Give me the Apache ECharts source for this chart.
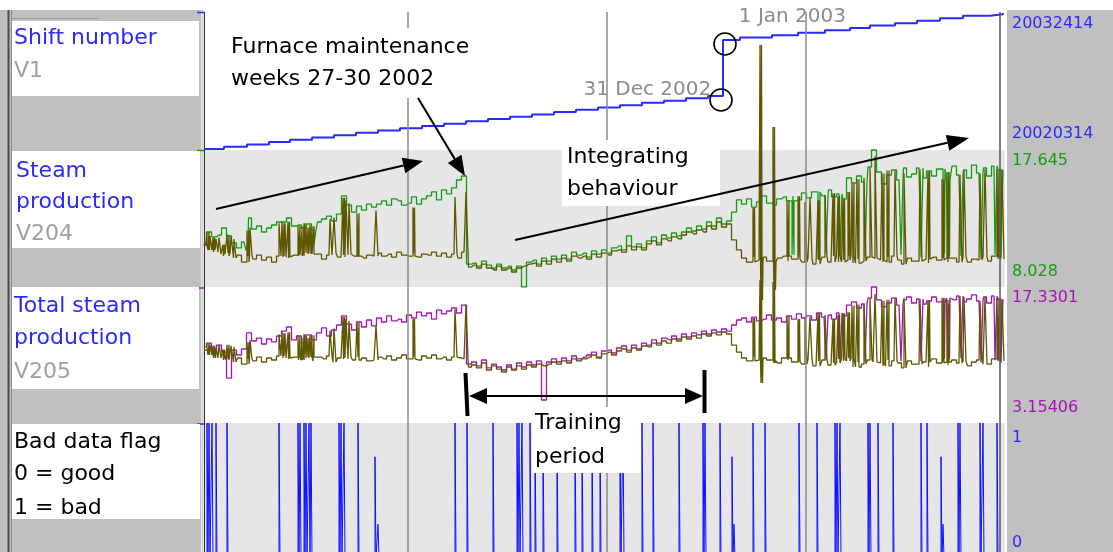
<!DOCTYPE html>
<html>
<head>
<meta charset="utf-8">
<script src="https://cdn.jsdelivr.net/npm/echarts@6/dist/echarts.min.js"></script>
<style>
  html, body { margin: 0; padding: 0; background: #ffffff; }
  #chart { width: 1113px; height: 552px; }
</style>
</head>
<body>
<div id="chart"></div>
<script>
// ---- record axis -------------------------------------------------------
const RECORD_MAX = 801;          // last record on the horizontal axis
const SAMPLE_STEP = 5;           // records between stored process samples
const PULSE_WIDTH = 2;           // records covered by a single-sample excursion
const timeGridX = [204, 403, 602];
const cursorX = [796];

// ---- V1: shift number (staircase) -------------------------------------
const shiftX = [0, 20, 43, 65, 86, 108, 130, 152, 174, 196, 218, 240, 262, 284, 306, 328, 350, 372, 394, 416,
  438, 460, 482, 504, 519, 536, 568, 594, 621, 646, 666, 691, 713, 736, 759, 786, 799];
const shiftVal = [20020314, 20020520, 20020720, 20020935, 20021130, 20021345, 20021545, 20021750, 20021960, 20022150,
  20022370, 20022565, 20022780, 20022975, 20023190, 20023380, 20023600, 20023795, 20024010, 20024200,
  20024420, 20024615, 20024830, 20025030, 20030011, 20030230, 20030440, 20030655, 20030870, 20031080,
  20031300, 20031505, 20031730, 20031945, 20032170, 20032300, 20032414];
const shiftRange = [20020314, 20032414];
const shiftTicks = ['20020314', '20032414'];
const yearEndLabels = ['31 Dec 2002', '1 Jan 2003'];

// ---- V204: steam production (one value every SAMPLE_STEP records) -------
const steamV204 = [11.33, 11.89, 11.54, 11.68, 12.17, 11.61, 11.12, 10.77, 11.19, 12.87,
  12.10, 12.31, 11.89, 12.17, 12.38, 12.59, 12.59, 12.87, 12.31, 12.38,
  12.17, 12.45, 12.03, 12.59, 12.80, 13.01, 12.66, 13.15, 14.42, 13.78,
  13.29, 13.71, 13.43, 13.85, 13.64, 13.85, 14.07, 13.78, 14.21, 14.07,
  13.78, 13.92, 14.35, 13.85, 14.21, 14.42, 14.70, 14.14, 14.84, 14.56,
  14.98, 15.54, 15.82, 9.64, 9.71, 9.50, 9.85, 9.57, 9.36, 9.64,
  9.36, 9.50, 9.22, 9.50, 8.03, 9.78, 9.92, 9.64, 10.06, 9.85,
  10.20, 9.99, 10.27, 9.99, 10.48, 10.27, 10.41, 10.13, 10.56, 10.34,
  10.63, 10.41, 10.77, 10.91, 10.63, 11.61, 10.84, 11.05, 10.77, 11.26,
  11.54, 11.12, 11.68, 11.47, 11.82, 11.61, 11.89, 12.17, 11.96, 12.31,
  12.10, 12.59, 12.31, 12.87, 12.45, 12.66, 13.29, 14.14, 13.85, 14.21,
  13.64, 14.00, 14.42, 13.92, 13.78, 14.21, 14.35, 14.07, 14.42, 14.14,
  14.63, 14.28, 14.70, 14.14, 14.42, 14.84, 14.35, 14.56, 14.21, 15.68,
  15.33, 15.82, 15.40, 16.45, 17.645, 16.10, 15.26, 15.89, 16.24, 15.54,
  16.38, 15.75, 15.96, 16.38, 15.68, 16.17, 15.82, 16.31, 15.54, 16.10,
  16.52, 15.89, 16.24, 15.68, 16.59, 16.03, 16.38, 15.82, 16.52, 16.24];
// single-sample drops of V204 as [record, value]
const steamV204Dips = [[42, 10.6], [110, 11.0], [588, 10.3], [614, 10.0], [622, 10.4], [636, 10.2], [661, 10.1],
  [697, 10.3], [717, 10.1], [739, 10.4], [744, 10.2], [757, 10.2], [777, 10.0], [791, 10.3], [797, 10.1]];
const steamV204b = [10.91, 10.62, 10.48, 10.34, 10.20, 10.41, 10.06, 10.27, 9.78, 10.20,
  9.99, 10.27, 9.92, 10.13, 9.78, 10.20, 10.13, 10.06, 10.27, 10.20,
  10.41, 10.34, 10.20, 10.34, 9.99, 10.27, 10.41, 10.13, 10.27, 10.34,
  10.20, 10.13, 10.06, 10.27, 10.20, 10.41, 10.20, 10.34, 10.13, 10.48,
  10.27, 10.20, 10.41, 10.13, 10.34, 10.27, 10.48, 10.20, 10.41, 10.13,
  10.34, 10.06, 10.48, 9.43, 9.57, 9.36, 9.64, 9.36, 9.22, 9.50,
  9.22, 9.36, 9.08, 9.36, 9.50, 9.64, 9.71, 9.50, 9.85, 9.64,
  9.99, 9.78, 10.06, 9.85, 10.20, 10.06, 10.20, 9.99, 10.34, 10.13,
  10.41, 10.27, 10.56, 10.63, 10.48, 10.91, 10.63, 10.84, 10.63, 11.05,
  11.26, 10.98, 11.40, 11.26, 11.54, 11.40, 11.68, 11.89, 11.75, 12.03,
  11.89, 12.31, 12.10, 12.59, 12.24, 12.45, 11.33, 10.63, 10.06, 9.78,
  10.13, 9.92, 10.13, 9.85, 9.78, 10.06, 10.20, 9.85, 9.99, 10.13,
  9.78, 10.06, 9.64, 9.92, 10.13, 9.78, 10.20, 9.78, 9.92, 10.20,
  9.71, 9.99, 9.85, 10.13, 10.06, 9.92, 9.78, 10.13, 10.20, 9.92,
  9.64, 10.06, 9.85, 9.85, 9.99, 9.71, 10.13, 9.92, 10.06, 9.78,
  10.06, 9.78, 10.13, 9.78, 9.99, 9.92, 10.13, 9.85, 10.20, 9.99];
// single-sample peaks of the second V204 trace as [record, value]
const steamV204bPeaks = [[1, 11.2], [3, 11.9], [6, 11.6], [9, 11.5], [12, 11.4], [15, 11.5], [19, 11.0], [23, 11.7],
  [27, 11.6], [30, 11.4], [43, 12.0], [46, 12.2], [75, 12.5], [78, 12.6], [80, 12.5], [84, 12.6],
  [94, 12.4], [96, 12.3], [98, 12.0], [100, 12.5], [103, 12.2], [106, 12.4], [108, 12.3], [126, 12.8], [130, 12.9],
  [139, 14.3], [142, 14.1], [145, 13.9], [153, 13.2], [172, 13.4], [209, 13.6], [251, 14.35], [262, 14.7],
  [549, 13.6], [556, 25.02], [557, 7.12], [569, 19.26], [570, 7.82], [583, 14.1], [594, 14.4], [601, 14.0], [606, 14.3],
  [614, 14.1], [621, 14.5], [629, 14.6], [634, 14.4], [639, 14.2], [644, 14.7], [648, 15.3], [653, 15.6], [660, 15.7],
  [666, 16.4], [671, 17.2], [678, 16.0], [683, 16.2], [691, 16.2], [700, 16.0],
  [716, 16.3], [724, 16.1], [738, 15.6], [743, 16.1], [756, 15.9], [760, 16.2], [776, 16.0], [781, 16.3], [793, 16.2], [798, 16.3]];
const steamRange = [8.028, 17.645];
const steamTicks = ['8.028', '17.645'];

// ---- V205: total steam production ---------------------------------------
const totalV205 = [11.08, 11.49, 10.76, 11.28, 10.55, 7.84, 10.76, 10.24, 10.87, 12.54,
  11.70, 12.01, 11.39, 11.91, 11.60, 12.22, 12.74, 13.16, 11.81, 12.22,
  11.49, 12.33, 11.81, 12.54, 13.06, 12.22, 12.85, 13.37, 14.31, 13.47,
  12.85, 13.68, 13.16, 13.89, 13.27, 14.10, 13.68, 14.31, 13.79, 13.99,
  13.68, 14.41, 14.10, 14.72, 14.31, 14.62, 13.99, 14.93, 14.52, 14.83,
  15.14, 14.62, 15.45, 9.30, 9.51, 9.10, 9.72, 8.89, 9.30, 8.99,
  8.68, 9.20, 8.78, 9.41, 8.99, 9.51, 9.20, 9.62, 5.55, 9.51,
  9.83, 9.51, 9.93, 9.62, 10.14, 9.83, 10.03, 10.24, 10.55, 10.03,
  10.66, 10.76, 10.45, 10.97, 11.18, 10.76, 11.28, 10.87, 11.49, 11.28,
  11.81, 11.49, 12.01, 11.81, 12.22, 11.91, 12.43, 12.12, 12.54, 12.33,
  12.74, 12.43, 12.85, 12.64, 12.95, 12.74, 13.37, 13.89, 14.10, 13.68,
  14.20, 13.79, 13.99, 14.41, 13.89, 14.10, 13.68, 14.31, 13.99, 14.52,
  14.10, 14.31, 13.89, 14.62, 14.20, 14.41, 13.99, 14.62, 14.31, 15.45,
  15.77, 15.14, 15.56, 16.18, 17.33, 15.98, 15.25, 15.66, 16.18, 15.45,
  15.98, 16.29, 15.66, 16.08, 15.56, 15.87, 16.29, 15.77, 16.18, 15.56,
  15.98, 16.39, 15.77, 16.08, 16.50, 15.87, 16.29, 15.66, 16.39, 16.08];
const totalV205Dips = [[622, 9.7], [636, 9.8], [661, 9.5], [697, 9.6], [717, 9.6], [739, 9.9], [744, 9.8],
  [757, 9.9], [777, 9.5], [791, 9.7], [797, 9.4]];
const totalV205b = [10.76, 10.24, 9.93, 9.93, 9.72, 9.83, 9.51, 9.93, 9.30, 9.83,
  9.62, 10.03, 9.51, 9.93, 9.72, 10.14, 9.93, 9.83, 10.03, 9.72,
  9.93, 10.03, 9.62, 10.03, 9.83, 10.14, 9.51, 9.93, 9.83, 10.03,
  9.72, 10.03, 9.93, 9.62, 9.72, 10.03, 9.83, 10.14, 9.72, 9.93,
  10.24, 9.83, 10.03, 9.72, 10.14, 9.93, 10.24, 9.83, 10.03, 9.72,
  10.03, 9.93, 9.83, 8.99, 9.20, 8.89, 9.41, 8.68, 9.10, 8.78,
  8.47, 8.99, 8.68, 9.10, 8.78, 9.20, 8.99, 9.30, 9.10, 9.30,
  9.51, 9.30, 9.62, 9.41, 9.83, 9.62, 9.83, 10.03, 10.24, 9.93,
  10.35, 10.55, 10.24, 10.66, 10.87, 10.55, 10.97, 10.76, 11.18, 11.08,
  11.49, 11.28, 11.70, 11.49, 11.91, 11.70, 12.12, 11.91, 12.22, 12.01,
  12.43, 12.22, 12.54, 12.33, 12.64, 12.43, 11.28, 10.55, 9.93, 9.62,
  10.03, 9.72, 9.93, 9.72, 9.62, 9.41, 9.93, 9.72, 9.51, 9.51,
  9.30, 9.83, 9.10, 9.62, 9.72, 9.20, 9.41, 9.83, 9.62, 9.93,
  8.99, 9.51, 9.30, 9.72, 9.51, 9.41, 9.10, 9.72, 9.62, 9.41,
  8.89, 9.62, 9.30, 9.30, 9.51, 8.99, 9.83, 9.41, 9.51, 9.20,
  9.72, 9.41, 9.62, 9.10, 9.51, 9.72, 9.30, 9.30, 9.83, 9.62];
const totalV205bPeaks = [[1, 10.9], [3, 11.5], [6, 11.3], [9, 11.2], [12, 11.0], [15, 11.3], [19, 10.8], [23, 11.3],
  [27, 11.2], [30, 11.1], [43, 11.6], [46, 11.8], [75, 12.4], [78, 12.7], [80, 12.5], [84, 12.6],
  [94, 12.3], [96, 12.2], [98, 12.0], [100, 12.4], [103, 12.0], [106, 12.3], [108, 12.3], [126, 12.8], [130, 13.0],
  [139, 14.2], [142, 14.0], [145, 13.8], [153, 13.6], [172, 13.4], [209, 14.0], [251, 15.0], [262, 15.5],
  [549, 14.1], [556, 18.06], [557, 7.32], [569, 17.85], [570, 9.41], [583, 14.3], [594, 14.0], [601, 14.2], [606, 14.2],
  [614, 14.6], [621, 14.4], [629, 14.0], [634, 14.4], [639, 14.6], [644, 14.7], [648, 15.4], [653, 15.5], [660, 15.6],
  [666, 16.2], [671, 16.6], [678, 15.9], [683, 16.0], [691, 16.2], [700, 16.2],
  [716, 16.1], [724, 15.9], [738, 16.2], [743, 16.0], [756, 16.4], [760, 16.3], [776, 15.9], [781, 16.3], [793, 16.1], [798, 16.0]];
const totalRange = [3.15406, 17.3301];
const totalTicks = ['3.15406', '17.3301'];

// ---- bad data flag -----------------------------------------------------
const flagX = [3, 5, 8, 12, 23, 75, 94, 96, 100, 102, 105, 107, 135, 137, 140, 154, 171, 174, 251, 263,
  289, 313, 315, 318, 326, 331, 339, 353, 371, 378, 388, 396, 416, 419, 438, 449, 475, 499, 501, 516,
  528, 530, 549, 561, 595, 613, 631, 633, 636, 664, 666, 674, 689, 717, 723, 737, 739, 754, 756, 776,
  779, 793];
const flagVal = [1, 1, 1, 1, 1, 1, 1, 1, 1, 1, 1, 1, 1, 1, 1, 1, 0.75, 0.25, 1, 1,
  1, 1, 1, 1, 1, 1, 1, 1, 1, 1, 1, 1, 1, 1, 1, 1, 1, 1, 1, 1,
  0.75, 0.25, 1, 1, 1, 1, 1, 1, 1, 1, 1, 1, 1, 1, 1, 0.75, 0.25, 1, 1, 1,
  1, 1];
const flagRange = [0, 1];
const flagTicks = ['0', '1'];

// ---- colours & fonts ---------------------------------------------------
const FONT = 'DejaVu Sans';
const C_BLUE = '#2a2aff';
const C_GREEN = '#149c14';
const C_OLIVE = '#5e5700';
const C_MAGENTA = '#a414b4';
const C_GRAY_TXT = '#8c8c8c';
const C_SIDE = '#c0c0c0';
const C_PANEL = '#e6e6e6';

// sampled trace plus single-sample excursions, returned in record order
function traceWithPulses(values, pulses) {
  const pts = values.map((v, k) => [k * SAMPLE_STEP, v, -1]);
  pulses.forEach(([x, v]) => {
    const k = Math.min(values.length - 1, Math.floor(x / SAMPLE_STEP));
    const hold = values[k];
    pts.push([x, hold, 0], [x, v, 1], [x + PULSE_WIDTH, v, 2], [x + PULSE_WIDTH, hold, 3]);
  });
  pts.sort((a, b) => a[0] - b[0] || a[2] - b[2]);
  return pts.map(p => [p[0], p[1]]);
}

function flagPulses() {
  const pts = [[0, 0]];
  flagX.forEach((x, i) => {
    pts.push([x, 0], [x, flagVal[i]], [x + 1, flagVal[i]], [x + 1, 0]);
  });
  pts.push([RECORD_MAX, 0]);
  return pts;
}

// right-hand value axis showing only the lowest and highest value
function rightAxis(gridIndex, range, ticks, color, hiGap) {
  const mid = (range[0] + range[1]) / 2;
  return {
    gridIndex, type: 'value', position: 'right',
    min: range[0], max: range[1], interval: range[1] - range[0],
    axisLine: { show: true, lineStyle: { color: '#2e2e2e', width: 1 } },
    axisTick: { show: false }, splitLine: { show: false },
    axisLabel: {
      show: true, margin: 7, showMinLabel: true, showMaxLabel: true,
      formatter: v => v < mid ? '{v|' + ticks[0] + '}\n{lo| }' : '{hi| }\n{v|' + ticks[1] + '}',
      rich: {
        v: { color, fontFamily: FONT, fontSize: 16, lineHeight: 16 },
        lo: { fontSize: 8, lineHeight: 30 },
        hi: { fontSize: 8, lineHeight: hiGap || 22 }
      }
    }
  };
}

function arrow(x1, y1, x2, y2, len, half, width) {
  const d = Math.hypot(x2 - x1, y2 - y1);
  const ux = (x2 - x1) / d, uy = (y2 - y1) / d;
  const bx = x2 - ux * len, by = y2 - uy * len;
  return [
    { type: 'line', z: 120, shape: { x1, y1, x2: bx, y2: by }, style: { stroke: '#000', lineWidth: width } },
    { type: 'polygon', z: 120, shape: { points: [[x2, y2], [bx - uy * half, by + ux * half], [bx + uy * half, by - ux * half]] }, style: { fill: '#000' } }
  ];
}

function txt(x, y, text, color, size) {
  return { type: 'text', z: 110, x, y, style: { text, fill: color, font: (size || 22) + 'px "' + FONT + '"', align: 'left', verticalAlign: 'middle' } };
}
function box(x, y, w, h, z) {
  return { type: 'rect', z: z || 100, shape: { x, y, width: w, height: h }, style: { fill: '#ffffff' } };
}
function vline(x, y1, y2, color, w, z) {
  return { type: 'line', z: z || -5, shape: { x1: x, y1, x2: x, y2 }, style: { stroke: color, lineWidth: w } };
}
function hline(x1, x2, y, color, w, z) {
  return { type: 'line', z: z || -5, shape: { x1, y1: y, x2, y2: y }, style: { stroke: color, lineWidth: w } };
}

const graphics = [
  // side frames
  { type: 'rect', z: -10, shape: { x: 0, y: 10, width: 201, height: 542 }, style: { fill: C_SIDE } },
  { type: 'rect', z: -10, shape: { x: 1007, y: 10, width: 106, height: 542 }, style: { fill: C_SIDE } },
  vline(8.5, 10, 552, '#4a4a4a', 2),
  vline(11.5, 10, 552, '#8a8a8a', 1),
  hline(12, 98, 18.5, '#9c9c9c', 1),
  vline(202.5, 10, 552, '#cfcfcf', 2),
  // coloured marks at the top of each strip
  hline(197, 205, 12.5, C_BLUE, 1.5),
  hline(197, 205, 150.5, C_GREEN, 1.5),
  hline(197, 205, 288, C_MAGENTA, 1.5),
  hline(197, 205, 424, C_BLUE, 1.5),
  // strip titles
  box(12, 21, 187, 75, 5), box(12, 151, 188, 97, 5), box(12, 287, 187, 102, 5), box(12, 424, 188, 95, 5),
  txt(14, 38, 'Shift number', C_BLUE), txt(14, 71, 'V1', '#a0a0a0'),
  txt(16, 171, 'Steam', C_BLUE), txt(16, 202, 'production', C_BLUE), txt(16, 234, 'V204', '#a0a0a0'),
  txt(14, 306, 'Total steam', C_BLUE), txt(14, 338, 'production', C_BLUE), txt(14, 372, 'V205', '#a0a0a0'),
  txt(14, 442, 'Bad data flag', '#000'), txt(14, 474, '0 = good', '#000'), txt(14, 508, '1 = bad', '#000'),
  // annotations
  box(224, 28, 258, 70),
  txt(231, 47, 'Furnace maintenance', '#000'),
  txt(231, 79, 'weeks 27-30 2002', '#000'),
  ...arrow(418, 98, 465, 176, 20, 8, 2),
  ...arrow(216, 209, 423, 161, 20, 8, 2),
  box(562, 140, 158, 66),
  txt(567, 157, 'Integrating', '#000'),
  txt(567, 189, 'behaviour', '#000'),
  ...arrow(515, 240, 969, 138, 22, 8, 2),
  box(532, 407, 109, 66),
  txt(535, 423, 'Training', '#000'),
  txt(535, 457, 'period', '#000'),
  { type: 'line', z: 120, shape: { x1: 465.5, y1: 373, x2: 467.5, y2: 416 }, style: { stroke: '#000', lineWidth: 4 } },
  { type: 'line', z: 120, shape: { x1: 704.5, y1: 370, x2: 704.5, y2: 413 }, style: { stroke: '#000', lineWidth: 4 } },
  ...arrow(600, 396, 469, 396, 18, 8, 2),
  ...arrow(580, 396, 703, 396, 18, 8, 2)
];

const chart = echarts.init(document.getElementById('chart'), null, { renderer: 'canvas', width: 1113, height: 552 });

const gridBase = { left: 204, width: 801, show: true, borderWidth: 0, outerBoundsMode: 'none', containLabel: false };
const xAxes = [0, 1, 2, 3, 4].map(i => ({ gridIndex: i, type: 'value', min: 0, max: RECORD_MAX, show: false }));

const jumpIdx = shiftVal.findIndex(v => v >= 20030000);
const traceStyle = color => ({ color, width: 1.3 });

chart.setOption({
  animation: false,
  backgroundColor: '#ffffff',
  textStyle: { fontFamily: FONT },
  grid: [
    { ...gridBase, top: 13, height: 136, backgroundColor: '#ffffff' },
    { ...gridBase, top: 150, height: 137, backgroundColor: C_PANEL },
    { ...gridBase, top: 287, height: 136, backgroundColor: '#ffffff' },
    { ...gridBase, top: 423, height: 135, backgroundColor: C_PANEL },
    { left: 204, width: 801, top: 12, height: 546, show: false, outerBoundsMode: 'none' }
  ],
  xAxis: xAxes,
  yAxis: [
    rightAxis(0, shiftRange, shiftTicks, C_BLUE),
    rightAxis(1, steamRange, steamTicks, C_GREEN),
    rightAxis(2, totalRange, totalTicks, C_MAGENTA),
    rightAxis(3, flagRange, flagTicks, C_BLUE, 30),
    { gridIndex: 4, type: 'value', min: 0, max: 1, show: false }
  ],
  series: [
    {
      name: 'time grid', type: 'line', xAxisIndex: 4, yAxisIndex: 4, z: 1, silent: true,
      data: [[0, 0]], symbol: 'none', lineStyle: { opacity: 0 },
      markLine: {
        silent: true, symbol: 'none', label: { show: false }, animation: false,
        data: [
          ...timeGridX.map(x => ({ xAxis: x, lineStyle: { color: '#8a8a8a', width: 1.5, type: 'solid' } })),
          ...cursorX.map(x => ({ xAxis: x, lineStyle: { color: '#555555', width: 1.5, type: 'solid' } }))
        ]
      }
    },
    {
      name: 'V1', type: 'line', xAxisIndex: 0, yAxisIndex: 0, step: 'end', symbol: 'none',
      data: shiftX.map((x, i) => [x, shiftVal[i]]),
      lineStyle: { color: C_BLUE, width: 2 },
      markPoint: {
        symbol: 'circle', symbolSize: 22, silent: true,
        itemStyle: { color: 'rgba(0,0,0,0)', borderColor: '#000', borderWidth: 1.6 },
        data: [
          { coord: [shiftX[jumpIdx], shiftVal[jumpIdx - 1]], symbolOffset: [-2, 4],
            label: { show: true, formatter: yearEndLabels[0], position: 'left', distance: 5, offset: [7, -10], color: C_GRAY_TXT, fontSize: 20, fontFamily: FONT } },
          { coord: [shiftX[jumpIdx], shiftVal[jumpIdx]], symbolOffset: [2, 4],
            label: { show: true, formatter: yearEndLabels[1], position: 'right', distance: 5, offset: [-3, -27], color: C_GRAY_TXT, fontSize: 20, fontFamily: FONT } }
        ]
      }
    },
    {
      name: 'V204', type: 'line', xAxisIndex: 1, yAxisIndex: 1, symbol: 'none', clip: false, step: 'middle',
      data: traceWithPulses(steamV204, steamV204Dips), lineStyle: traceStyle(C_GREEN)
    },
    {
      name: 'V204 b', type: 'line', xAxisIndex: 1, yAxisIndex: 1, symbol: 'none', clip: false, step: 'middle',
      data: traceWithPulses(steamV204b, steamV204bPeaks), lineStyle: traceStyle(C_OLIVE)
    },
    {
      name: 'V205', type: 'line', xAxisIndex: 2, yAxisIndex: 2, symbol: 'none', clip: false, step: 'middle',
      data: traceWithPulses(totalV205, totalV205Dips), lineStyle: traceStyle(C_MAGENTA)
    },
    {
      name: 'V205 b', type: 'line', xAxisIndex: 2, yAxisIndex: 2, symbol: 'none', clip: false, step: 'middle',
      data: traceWithPulses(totalV205b, totalV205bPeaks), lineStyle: traceStyle(C_OLIVE)
    },
    {
      name: 'Bad data flag', type: 'line', xAxisIndex: 3, yAxisIndex: 3, symbol: 'none',
      data: flagPulses(), lineStyle: { color: '#1010ff', width: 1 }
    }
  ],
  graphic: graphics
});
</script>
</body>
</html>
